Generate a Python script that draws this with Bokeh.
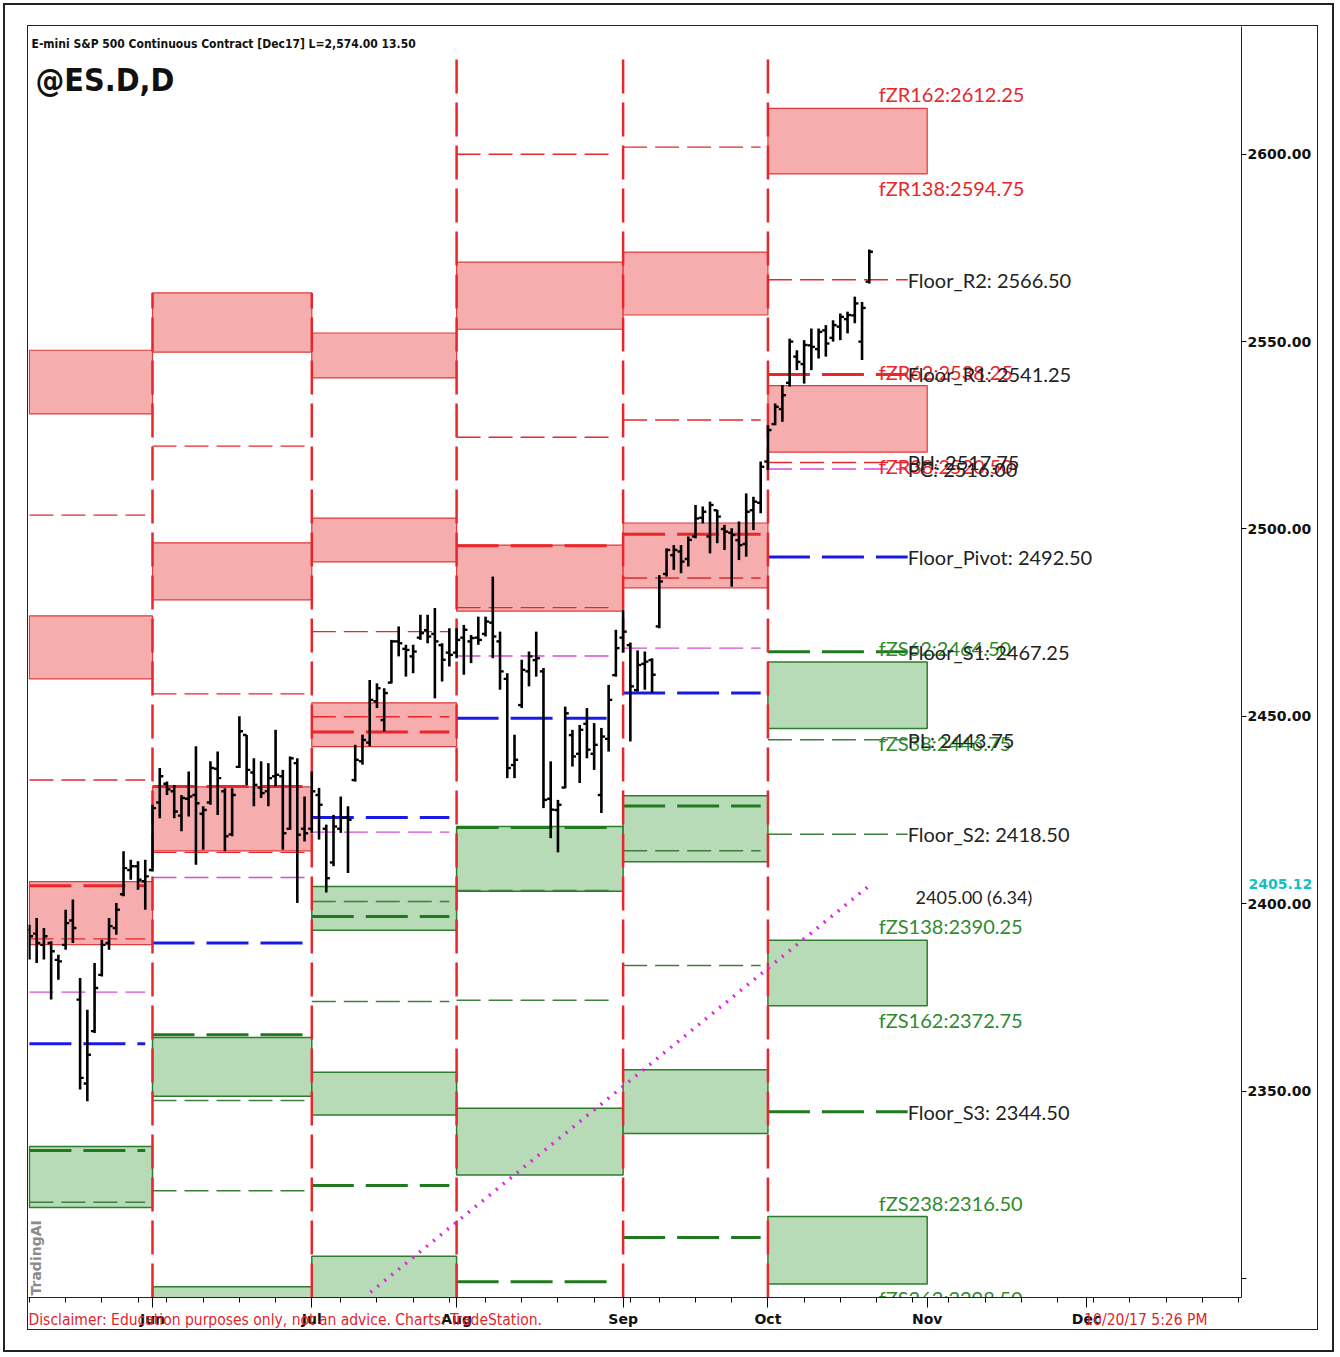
import numpy as np
from bokeh.plotting import figure
from bokeh.layouts import column
from bokeh.models import ColumnDataSource, FixedTicker, Label, Range1d, LinearAxis
from bokeh.core.properties import value
from bokeh.embed import file_html
from bokeh.resources import INLINE

# ---------------- daily OHLC bars (trading-day index, 0 = 8 May 2017) ----------------
bar_open = [2393.0, 2392.0, 2389.0, 2389.5, 2385.0, 2389.0, 2395.5, 2374.4, 2352.0, 2366.0,
            2381.0, 2389.5, 2393.5, 2402.5, 2409.0, 2410.0, 2406.0,
            2409.0, 2427.0, 2432.0, 2430.0, 2423.5, 2428.0, 2429.0, 2424.0, 2427.0, 2436.0,
            2430.0, 2418.5, 2436.5, 2445.0, 2435.0, 2431.0, 2430.0, 2434.0, 2434.0, 2420.0,
            2437.5, 2420.0,
            2420.0, 2429.0, 2420.0, 2411.0, 2420.0, 2423.0, 2433.0, 2438.0, 2443.0, 2454.0,
            2449.0, 2459.0, 2470.0, 2468.0, 2466.0, 2471.0, 2473.0, 2472.0, 2469.0, 2467.0,
            2467.0, 2471.0, 2470.0, 2471.0, 2472.0, 2475.0, 2470.0, 2460.0, 2437.0, 2453.0,
            2462.0, 2465.0, 2462.0, 2428.0, 2425.0, 2431.0, 2445.0, 2440.0, 2448.0, 2440.0,
            2429.0, 2444.0, 2461.0,
            2471.0, 2469.0, 2457.0, 2464.0, 2465.0, 2474.0, 2488.0, 2493.0, 2494.0, 2492.0,
            2498.0, 2503.0, 2498.0, 2505.0, 2500.0, 2499.0, 2497.0, 2496.0, 2505.0, 2507.0,
            2518.0, 2528.0, 2532.0, 2539.0, 2546.0, 2544.0, 2549.0, 2548.0, 2553.0, 2551.0,
            2554.0, 2556.0, 2557.0, 2550.0, 2566.0]
bar_high = [2394.4, 2396.2, 2393.5, 2390.0, 2386.4, 2398.4, 2401.1, 2380.2, 2371.7, 2384.2,
            2390.4, 2396.2, 2400.2, 2414.0, 2411.7, 2411.3, 2411.7,
            2426.4, 2436.2, 2432.6, 2431.7, 2429.0, 2435.3, 2442.0, 2426.0, 2438.0, 2440.6,
            2430.8, 2430.8, 2450.0, 2445.0, 2438.8, 2438.0, 2437.5, 2446.4, 2435.7, 2439.3,
            2438.8, 2428.6,
            2435.3, 2430.9, 2421.1, 2423.7, 2428.6, 2426.0, 2442.4, 2445.1, 2459.7, 2458.8,
            2457.5, 2470.4, 2474.0, 2469.1, 2469.1, 2477.1, 2477.1, 2478.9, 2469.5, 2473.5,
            2473.5, 2474.4, 2471.7, 2476.6, 2476.6, 2487.3, 2472.6, 2461.5, 2445.1, 2465.1,
            2467.3, 2472.6, 2462.9, 2438.0, 2427.7, 2452.6, 2446.4, 2447.7, 2452.2, 2448.2,
            2446.9, 2458.4, 2473.1,
            2478.4, 2469.7, 2467.6, 2467.3, 2465.5, 2487.7, 2494.8, 2495.7, 2495.7, 2498.0,
            2506.4, 2506.0, 2507.3, 2505.1, 2501.1, 2500.2, 2502.0, 2509.5, 2508.6, 2518.0,
            2527.7, 2533.5, 2538.4, 2550.8, 2547.7, 2550.4, 2553.5, 2553.5, 2554.4, 2555.7,
            2557.5, 2558.0, 2562.0, 2560.6, 2574.6]
bar_low = [2385.1, 2384.2, 2385.1, 2374.4, 2379.7, 2387.7, 2389.5, 2350.4, 2347.3, 2365.5,
           2380.6, 2387.7, 2391.7, 2402.0, 2406.4, 2403.7, 2398.4,
           2408.6, 2422.8, 2429.0, 2422.8, 2419.3, 2423.3, 2410.4, 2414.4, 2426.4, 2423.7,
           2414.0, 2418.0, 2436.2, 2431.7, 2426.0, 2428.2, 2426.0, 2431.3, 2414.4, 2419.7,
           2400.2, 2416.6,
           2418.9, 2417.1, 2403.0, 2410.0, 2418.9, 2408.2, 2432.6, 2437.1, 2442.0, 2452.2,
           2446.0, 2458.8, 2466.0, 2460.6, 2461.5, 2470.4, 2469.5, 2454.8, 2459.3, 2463.3,
           2465.5, 2461.1, 2464.2, 2469.1, 2471.3, 2465.5, 2457.1, 2433.5, 2433.5, 2452.2,
           2458.0, 2460.6, 2425.5, 2417.5, 2413.7, 2430.8, 2436.6, 2432.2, 2438.8, 2435.7,
           2424.2, 2440.6, 2460.6,
           2467.0, 2443.3, 2456.6, 2457.1, 2456.2, 2473.5, 2487.3, 2489.1, 2488.2, 2490.0,
           2497.5, 2501.5, 2493.5, 2496.2, 2494.4, 2484.6, 2491.7, 2492.6, 2499.7, 2504.2,
           2515.7, 2527.7, 2528.6, 2538.0, 2542.4, 2538.8, 2542.4, 2545.5, 2546.0, 2550.0,
           2550.4, 2552.2, 2554.9, 2545.1, 2565.5]
bar_close = [2391.3, 2389.5, 2391.3, 2387.3, 2384.6, 2394.8, 2393.5, 2353.5, 2359.7, 2377.5,
             2389.0, 2394.0, 2398.4, 2409.5, 2410.0, 2406.4, 2407.3,
             2425.5, 2434.0, 2430.5, 2424.6, 2428.2, 2428.6, 2426.8, 2425.0, 2436.2, 2433.5,
             2418.0, 2429.0, 2446.0, 2435.7, 2431.7, 2429.5, 2433.5, 2434.4, 2418.8, 2438.8,
             2418.4, 2418.8,
             2430.0, 2426.4, 2406.8, 2420.6, 2422.9, 2422.4, 2438.4, 2443.7, 2454.4, 2457.5,
             2456.2, 2470.0, 2469.5, 2467.7, 2467.3, 2472.2, 2471.3, 2470.0, 2465.1, 2466.4,
             2470.4, 2473.1, 2470.9, 2470.4, 2475.3, 2471.3, 2462.0, 2436.2, 2438.4, 2462.4,
             2466.0, 2465.5, 2427.7, 2425.1, 2426.4, 2450.8, 2439.3, 2446.4, 2441.1, 2442.4,
             2444.6, 2454.4, 2468.2,
             2472.6, 2458.0, 2463.7, 2464.6, 2461.1, 2486.0, 2494.4, 2494.4, 2491.3, 2497.1,
             2502.8, 2504.6, 2506.4, 2503.3, 2499.3, 2498.4, 2495.7, 2504.6, 2507.3, 2516.6,
             2526.4, 2532.6, 2535.7, 2550.0, 2544.6, 2549.1, 2548.6, 2552.6, 2549.5, 2554.4,
             2556.6, 2557.1, 2560.2, 2559.0, 2574.0]
bar_index = list(range(len(bar_open)))

# ---------------- axis ticks ----------------
month_names = ["Jun", "Jul", "Aug", "Sep", "Oct", "Nov", "Dec"]
month_ticks = [17, 39, 59, 82, 102, 124, 146]
week_ticks = [0, 5, 10, 15, 19, 24, 29, 34, 39, 43, 48, 53, 58, 63, 68, 73, 78, 83, 87, 92,
              97, 102, 107, 112, 117, 122, 127, 132, 137, 142, 147, 152, 157, 162, 167]
price_ticks = [2300, 2350, 2400, 2450, 2500, 2550, 2600]
footer_texts = ["Disclaimer: Education purposes only, not an advice.  Charts: TradeStation.",
                "10/20/17 5:26 PM"]
footer_pos = [35.6, 154.2]
last_price_tag = "2405.12"

# ---------------- monthly periods (May .. Oct) ----------------
period_start = [0, 17, 39, 59, 82, 102]
period_next = [17, 39, 59, 82, 102, 124]
period_line_end = [16, 38, 58, 81, 101, 121.3]
divider_x = [17, 39, 59, 82, 102]
divider_top = [2563.0, 2563.0, 2626.4, 2626.4, 2626.4]

# resistance zones (fZR)
red_zone_period = [0, 0, 0, 1, 1, 1, 2, 2, 2, 3, 3, 4, 4, 5, 5]
red_zone_low = [2530.7, 2460.0, 2389.1, 2547.2, 2481.1, 2414.1, 2540.3, 2491.2, 2441.9,
                2553.3, 2478.1, 2557.1, 2484.3, 2594.75, 2520.50]
red_zone_high = [2547.7, 2476.8, 2405.9, 2563.0, 2496.3, 2431.2, 2552.3, 2502.9, 2453.6,
                 2571.2, 2495.7, 2573.9, 2501.6, 2612.25, 2538.25]
# support zones (fZS)
green_zone_period = [0, 1, 1, 2, 2, 2, 3, 3, 4, 4, 5, 5, 5]
green_zone_low = [2318.9, 2348.6, 2281.8, 2392.9, 2343.6, 2290.0, 2403.3, 2327.6, 2411.2,
                  2338.7, 2446.75, 2372.75, 2298.50]
green_zone_high = [2335.2, 2364.3, 2297.8, 2404.6, 2355.0, 2305.9, 2420.6, 2345.4, 2428.8,
                   2355.7, 2464.50, 2390.25, 2316.50]

# floor pivot lines
red_thin_period = [0, 0, 0, 1, 1, 1, 2, 2, 3, 3, 3, 4, 4, 4, 5, 5]
red_thin_level = [2503.7, 2433.0, 2390.6, 2522.1, 2456.0, 2413.7, 2472.6, 2449.9,
                  2600.0, 2524.5, 2479.0, 2601.9, 2529.1, 2486.9, 2566.50, 2517.75]
red_thick_period = [0, 1, 2, 3, 4, 5]
red_thick_level = [2404.8, 2431.3, 2445.8, 2495.5, 2498.6, 2541.25]
magenta_period = [0, 1, 2, 3, 4, 5]
magenta_level = [2376.4, 2407.0, 2419.1, 2466.1, 2468.2, 2516.00]
blue_period = [0, 1, 2, 3, 4, 5]
blue_level = [2362.6, 2389.5, 2423.0, 2449.5, 2456.2, 2492.50]
green_thick_period = [0, 1, 2, 2, 3, 3, 4, 4, 5, 5]
green_thick_level = [2334.1, 2365.0, 2396.6, 2324.8, 2420.3, 2299.1, 2426.1, 2310.9,
                     2467.25, 2344.50]
green_thin_period = [0, 1, 1, 2, 2, 3, 3, 4, 4, 5, 5]
green_thin_level = [2320.3, 2347.5, 2323.4, 2400.6, 2373.9, 2403.5, 2374.2, 2414.1,
                    2383.5, 2443.75, 2418.50]

# October labels
zone_label_text = ["fZR162:2612.25", "fZR138:2594.75", "fZR62:2538.25", "fZR38:2520.50",
                   "fZS62:2464.50", "fZS38:2446.75", "fZS138:2390.25", "fZS162:2372.75",
                   "fZS238:2316.50", "fZS262:2298.50"]
zone_label_level = [2612.25, 2594.75, 2538.25, 2520.50, 2464.50, 2446.75, 2390.25,
                    2372.75, 2316.50, 2298.50]
zone_label_side = [-1, 1, -1, 1, -1, 1, -1, 1, -1, 1]
zone_label_color = ["#E8262B"] * 4 + ["#2E8B2E"] * 6
floor_label_text = ["Floor_R2: 2566.50", "Floor_R1: 2541.25", "PH: 2517.75", "PC: 2516.00",
                    "Floor_Pivot: 2492.50", "Floor_S1: 2467.25", "PL: 2443.75",
                    "Floor_S2: 2418.50", "Floor_S3: 2344.50"]
floor_label_level = [2566.50, 2541.25, 2517.75, 2516.00, 2492.50, 2467.25, 2443.75,
                     2418.50, 2344.50]
zone_label_x = 117.3
floor_label_x = 121.3

# trend line
trend_x = [47.1, 116.2]
trend_y = [2296.3, 2405.12]
trend_text = "2405.00 (6.34)"

RED = "#E8262B"
GREEN_D = "#1F7A1F"
GREEN_T = "#3C7F3C"
BLUE = "#1A1AE6"
MAG = "#D24ED2"

W, H = 1291, 1305
p = figure(width=W, height=H, output_backend="svg", toolbar_location=None,
           x_range=Range1d(-0.127, 167.41), y_range=Range1d(2294.9, 2634.1),
           y_axis_location="right", x_axis_location="below",
           min_border_left=0, min_border_top=0, min_border_right=78, min_border_bottom=33)
p.xgrid.visible = False
p.ygrid.visible = False
p.outline_line_color = None
p.background_fill_color = "white"
p.border_fill_color = "white"
p.styles = {"border": "1px solid #222222"}

# axes
p.yaxis.ticker = FixedTicker(ticks=price_ticks)
p.yaxis.major_label_overrides = {t: ("" if t == 2300 else f"{t:.2f}") for t in price_ticks}
p.yaxis.major_label_text_font = "DejaVu Sans"
p.yaxis.major_label_text_font_style = "bold"
p.yaxis.major_label_text_font_size = "14px"
p.yaxis.major_label_text_color = "#111111"
p.yaxis.major_tick_out = 5
p.yaxis.major_tick_in = 0
p.yaxis.minor_tick_out = 0
p.yaxis.minor_tick_in = 0
p.yaxis.major_label_standoff = 1
p.yaxis.axis_line_color = "#222222"

p.xaxis.ticker = FixedTicker(ticks=month_ticks, minor_ticks=week_ticks)
p.xaxis.major_label_overrides = dict(zip(month_ticks, month_names))
p.xaxis.major_label_text_font = "DejaVu Sans"
p.xaxis.major_label_text_font_style = "bold"
p.xaxis.major_label_text_font_size = "14px"
p.xaxis.major_label_text_color = "#111111"
p.xaxis.major_tick_out = 10
p.xaxis.major_tick_in = 0
p.xaxis.minor_tick_out = 5
p.xaxis.minor_tick_in = 0
p.xaxis.major_label_standoff = 3
p.xaxis.axis_line_color = "#222222"

# footer line drawn as a second (tick-less) bottom axis
footer_axis = LinearAxis(ticker=FixedTicker(ticks=footer_pos),
                         major_label_overrides=dict(zip(footer_pos, footer_texts)),
                         major_label_text_font="DejaVu Sans Condensed",
                         major_label_text_font_size="15.5px",
                         major_label_text_color="#E0262B",
                         major_tick_out=0, major_tick_in=0, minor_tick_out=0, minor_tick_in=0,
                         major_tick_line_color=None, minor_tick_line_color=None,
                         axis_line_color=None, major_label_standoff=-19)
p.add_layout(footer_axis, "below")

# last price tag drawn as a second right axis
tag_axis = LinearAxis(ticker=FixedTicker(ticks=[trend_y[-1]]),
                      major_label_overrides={trend_y[-1]: last_price_tag},
                      major_label_text_font="DejaVu Sans", major_label_text_font_style="bold",
                      major_label_text_font_size="14px",
                      major_tick_out=0, major_tick_in=0, minor_tick_out=0, minor_tick_in=0,
                      major_tick_line_color=None, minor_tick_line_color=None,
                      axis_line_color=None, major_label_standoff=-66)
if "major_label_background_fill_color" in tag_axis.properties():
    tag_axis.major_label_background_fill_color = "#1DE9E9"
    tag_axis.major_label_text_color = "white"
else:
    tag_axis.major_label_text_color = "#12C0C0"
p.add_layout(tag_axis, "right")

# zones
rz = ColumnDataSource(dict(
    left=[period_start[m] for m in red_zone_period],
    right=[period_next[m] for m in red_zone_period],
    bottom=red_zone_low, top=red_zone_high))
p.quad(left="left", right="right", bottom="bottom", top="top", source=rz,
       fill_color="#F6A9A9", fill_alpha=0.95, line_color="#E23A3A", line_width=1.2)
gz = ColumnDataSource(dict(
    left=[period_start[m] for m in green_zone_period],
    right=[period_next[m] for m in green_zone_period],
    bottom=green_zone_low, top=green_zone_high))
p.quad(left="left", right="right", bottom="bottom", top="top", source=gz,
       fill_color="#B2D9B2", fill_alpha=0.95, line_color="#2E7D2E", line_width=1.5)


def level_lines(periods, levels, color, width, dash):
    src = ColumnDataSource(dict(
        x0=[period_start[m] for m in periods],
        x1=[period_line_end[m] for m in periods],
        y=levels))
    p.segment(x0="x0", y0="y", x1="x1", y1="y", source=src, line_color=color,
              line_width=width, line_dash=dash, line_cap="butt")


level_lines(red_thin_period, red_thin_level, RED, 1.4, "24 8")
level_lines(magenta_period, magenta_level, MAG, 1.4, "24 8")
level_lines(green_thin_period, green_thin_level, GREEN_T, 1.5, "24 8")
level_lines(red_thick_period, red_thick_level, RED, 3, "42 12")
level_lines(blue_period, blue_level, BLUE, 3, "42 12")
level_lines(green_thick_period, green_thick_level, GREEN_D, 3, "42 12")

# month dividers
dv = ColumnDataSource(dict(x=divider_x, top=divider_top,
                           bottom=[2294.9] * len(divider_x)))
p.segment(x0="x", y0="bottom", x1="x", y1="top", source=dv, line_color=RED,
          line_width=2.5, line_dash="34 9")

# trend line
p.line(trend_x, trend_y, line_color="#E020E0", line_width=3.5, line_dash="2 7")

# OHLC bars
bars = ColumnDataSource(dict(
    x=bar_index, o=bar_open, h=bar_high, l=bar_low, c=bar_close,
    xl=[i - 0.5 for i in bar_index], xr=[i + 0.5 for i in bar_index]))
p.segment(x0="x", y0="l", x1="x", y1="h", source=bars, line_color="black", line_width=2.6)
p.segment(x0="xl", y0="o", x1="x", y1="o", source=bars, line_color="black", line_width=2.4)
p.segment(x0="x", y0="c", x1="xr", y1="c", source=bars, line_color="black", line_width=2.4)

# October labels
zl = ColumnDataSource(dict(
    x=[zone_label_x] * len(zone_label_text), y=zone_label_level, text=zone_label_text,
    dy=[14 * s for s in zone_label_side], color=zone_label_color))
p.text(x="x", y="y", text="text", y_offset="dy", source=zl, text_color="color",
       text_font=value("Lato"), text_font_size="20px", text_baseline="middle")
fl = ColumnDataSource(dict(
    x=[floor_label_x] * len(floor_label_text), y=floor_label_level, text=floor_label_text))
p.text(x="x", y="y", text="text", source=fl, text_color="#222222",
       text_font=value("Lato"), text_font_size="20px", text_baseline="middle")
p.text(x=[floor_label_x + 1.1], y=[trend_y[-1]], text=[trend_text], y_offset=13,
       text_color="#222222", text_font=value("Lato"), text_font_size="18px",
       text_baseline="middle")

# title texts
p.add_layout(Label(x=2, y=16, x_units="canvas", y_units="canvas",
                   text="E-mini S&P 500 Continuous Contract [Dec17]  L=2,574.00  13.50",
                   text_font="DejaVu Sans Condensed", text_font_style="bold",
                   text_font_size="12px", text_color="#111111", text_baseline="middle"))
p.add_layout(Label(x=6, y=52, x_units="canvas", y_units="canvas", text="@ES.D,D",
                   text_font="DejaVu Sans Condensed", text_font_style="bold",
                   text_font_size="32px", text_color="#111111", text_baseline="middle"))
p.add_layout(Label(x=6, y=1268, x_units="canvas", y_units="canvas", text="TradingAI",
                   angle=np.pi / 2, text_font="DejaVu Sans", text_font_style="bold",
                   text_font_size="14px", text_color="#8A8A8A", text_baseline="middle"))

page = column(p, styles={"border": "2px solid #222222", "padding": "20px 14px 20px 22px",
                         "margin": "3px 0 0 3px", "background-color": "white"})

open("out.html", "w").write(file_html(page, INLINE))
